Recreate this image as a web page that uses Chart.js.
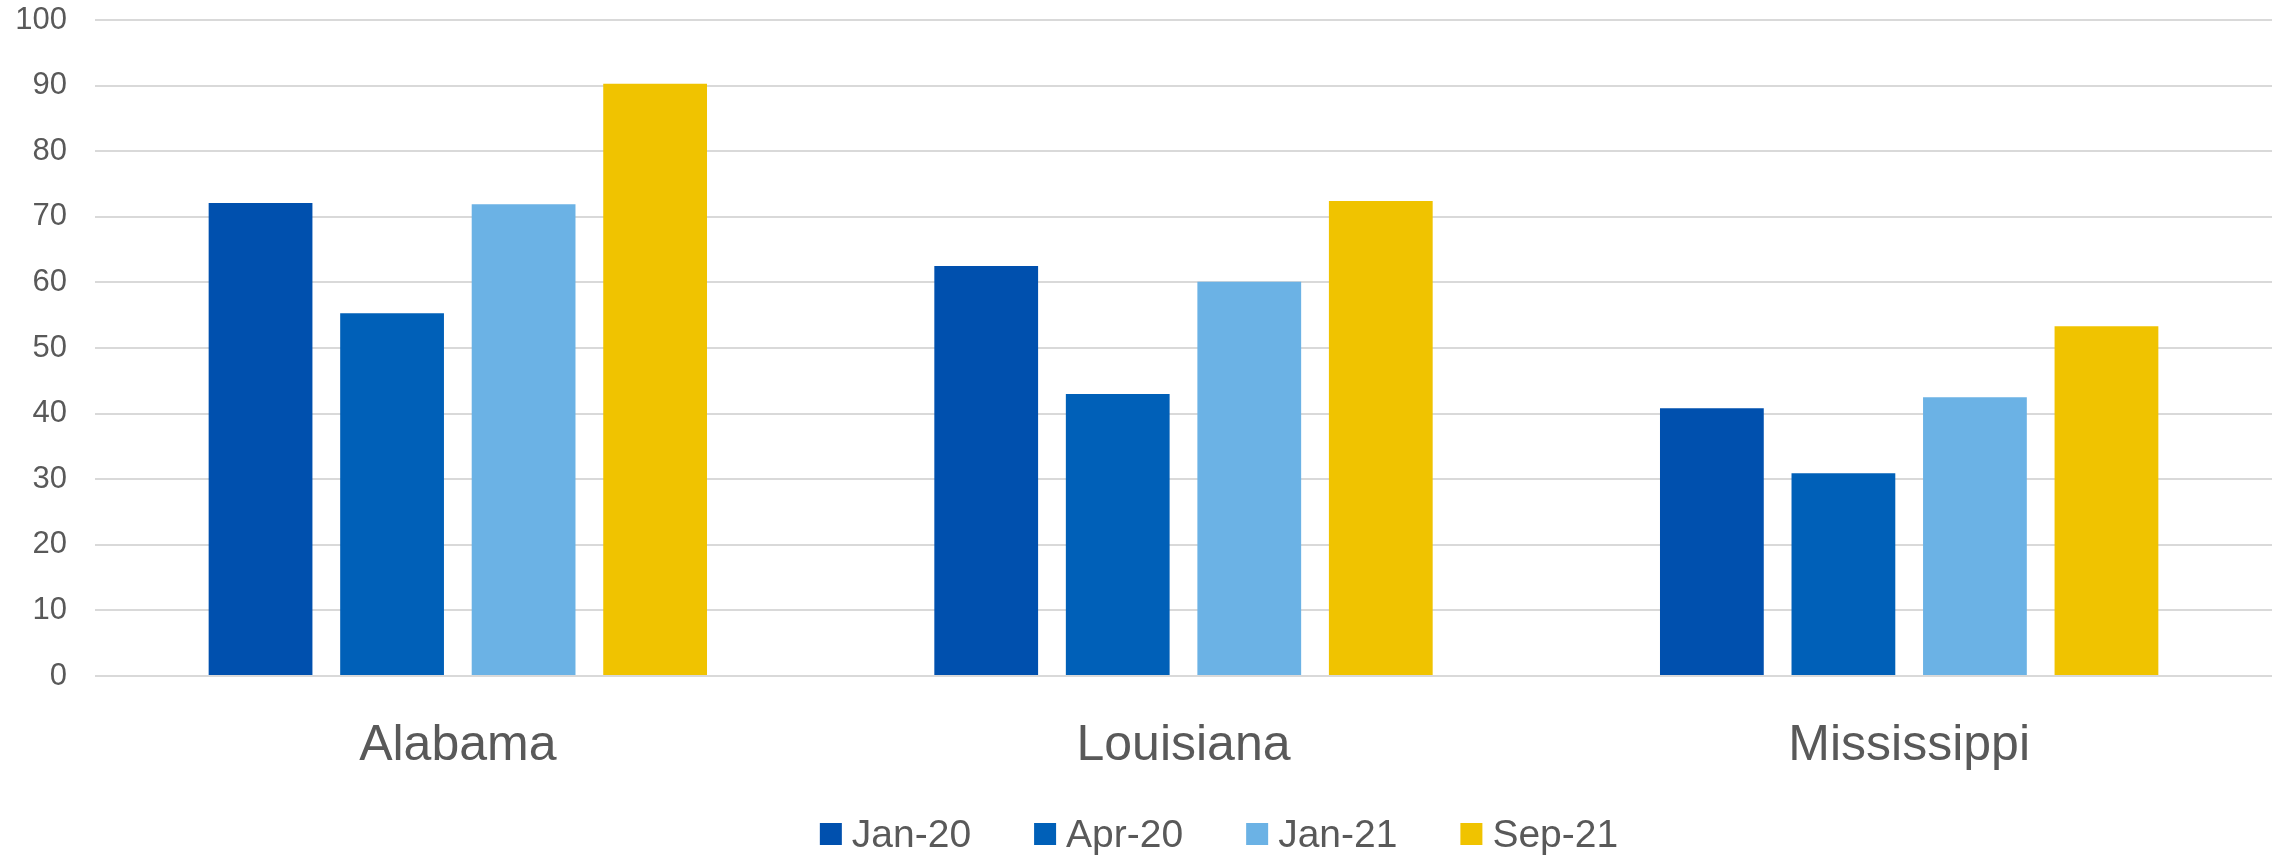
<!DOCTYPE html>
<html>
<head>
<meta charset="utf-8">
<script src="https://cdn.jsdelivr.net/npm/chart.js@4/dist/chart.umd.min.js"></script>
<style>
  html, body { margin: 0; padding: 0; background: #ffffff; }
  #wrap { width: 2284px; height: 856px; position: relative; }
</style>
</head>
<body>
<div id="wrap"><canvas id="chart"></canvas></div>
<script>
const STATES = ['Alabama', 'Louisiana', 'Mississippi'];
const SERIES_NAMES = ['Jan-20', 'Apr-20', 'Jan-21', 'Sep-21'];
const JAN_20 = [72.1, 62.5, 40.8];
const APR_20 = [55.3, 43.0, 30.9];
const JAN_21 = [71.9, 60.1, 42.5];
const SEP_21 = [90.3, 72.4, 53.3];
const Y_TICKS = [0, 10, 20, 30, 40, 50, 60, 70, 80, 90, 100];

const SERIES_COLORS = ['#0050ae', '#0060b8', '#6bb2e5', '#f0c300'];
const TEXT_COLOR = '#595959';
const FONT_FAMILY = '"Liberation Sans", Arial, sans-serif';

// legend drawn by hand so the box/text gap and row position match the original
const bottomLegend = {
  id: 'bottomLegend',
  afterDraw(chart) {
    const ctx = chart.ctx;
    const boxSize = 22;
    const textGap = 10;
    const itemGap = 63;
    const baseline = 847;
    const boxCenter = 834;
    ctx.save();
    ctx.font = `39px ${FONT_FAMILY}`;
    ctx.textBaseline = 'alphabetic';
    ctx.textAlign = 'left';
    const items = chart.data.datasets.map((ds) => ({
      text: ds.label,
      color: ds.backgroundColor,
      width: ctx.measureText(ds.label).width,
    }));
    const total = items.reduce((sum, item) => sum + boxSize + textGap + item.width, 0) + itemGap * (items.length - 1);
    let x = 1219 - total / 2;
    for (const item of items) {
      ctx.fillStyle = item.color;
      ctx.fillRect(x, boxCenter - boxSize / 2, boxSize, boxSize);
      ctx.fillStyle = TEXT_COLOR;
      ctx.fillText(item.text, x + boxSize + textGap, baseline);
      x += boxSize + textGap + item.width + itemGap;
    }
    ctx.restore();
  },
};

const seriesValues = [JAN_20, APR_20, JAN_21, SEP_21];

new Chart(document.getElementById('chart'), {
  type: 'bar',
  data: {
    labels: STATES,
    datasets: SERIES_NAMES.map((name, i) => ({
      label: name,
      data: seriesValues[i],
      backgroundColor: SERIES_COLORS[i],
      borderWidth: 0,
      barPercentage: 0.789,
      categoryPercentage: 0.725,
    })),
  },
  options: {
    responsive: true,
    maintainAspectRatio: false,
    animation: false,
    layout: { padding: { top: 20, right: 12, left: 0, bottom: 0 } },
    plugins: {
      legend: { display: false },
      tooltip: { enabled: false },
    },
    scales: {
      x: {
        grid: { display: false, drawTicks: false },
        border: { display: false },
        ticks: {
          color: TEXT_COLOR,
          font: { family: FONT_FAMILY, size: 50 },
          padding: 40,
        },
        afterFit(scale) { scale.height = 180; },
      },
      y: {
        min: 0,
        max: 100,
        afterBuildTicks(scale) { scale.ticks = Y_TICKS.map((v) => ({ value: v })); },
        // invisible tick marks give the label gap without the extra top padding
        grid: { color: '#d9d9d9', lineWidth: 2, drawTicks: true, tickLength: 28, tickColor: 'rgba(0,0,0,0)' },
        border: { display: false },
        ticks: {
          color: TEXT_COLOR,
          font: { family: FONT_FAMILY, size: 31 },
          padding: 0,
        },
        afterFit(scale) { scale.width = 95; },
      },
    },
  },
  plugins: [bottomLegend],
});
</script>
</body>
</html>
